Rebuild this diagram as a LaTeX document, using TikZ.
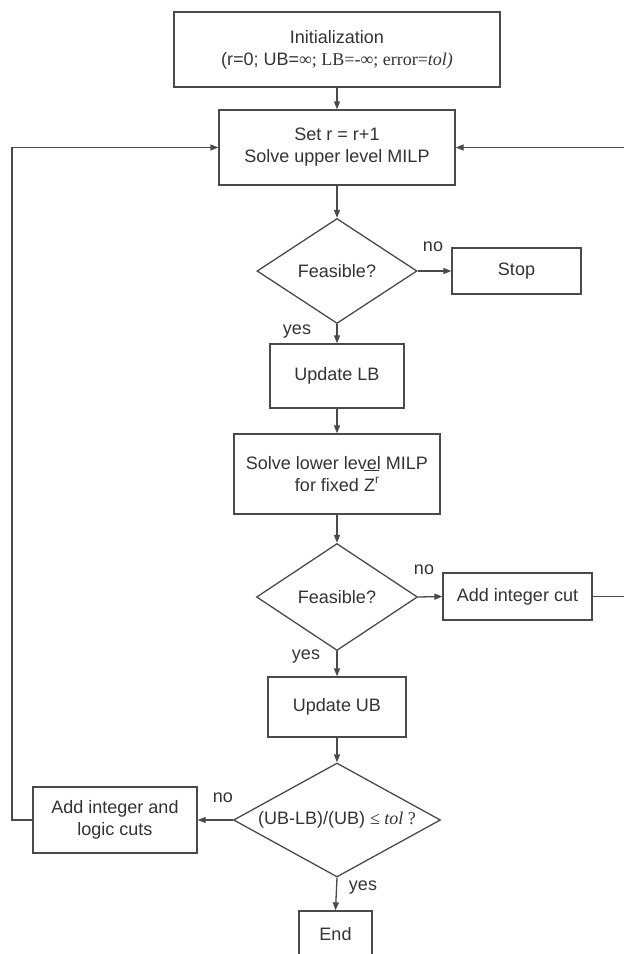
\documentclass[tikz,border=0pt]{standalone}
\usepackage{fontspec}
\setmainfont{Liberation Sans}
\newfontfamily\tms{Liberation Serif}
\usetikzlibrary{shapes.geometric,arrows.meta}
\definecolor{lc}{HTML}{4A4A4A}
\definecolor{tc}{HTML}{333333}
\tikzset{
  fnt/.style={font=\fontsize{18}{22}\selectfont},
  box/.style={draw=lc, line width=1.3pt, rectangle, inner sep=0pt, align=center, text=tc, fnt},
  dia/.style={draw=lc, line width=1.3pt, diamond, inner sep=0pt, align=center, text=tc, fnt},
  arr/.style={draw=lc, line width=1.3pt, -{Triangle[length=8pt,width=6pt]}},
  lab/.style={text=tc, fnt, inner sep=0pt}
}
\begin{document}
\begin{tikzpicture}[x=1pt,y=-1pt]
\useasboundingbox (0,0) rectangle (624,954);
\node[box, minimum width=326pt, minimum height=75pt] (init) at (337,49.5)
  {Initialization\\(r=0; UB={\tms ∞; LB=-∞; error=\itshape tol)}};
\node[box, minimum width=236pt, minimum height=75pt] (setr) at (337,147.5)
  {Set r = r+1\\Solve upper level MILP};
\node[dia, minimum width=160pt, minimum height=105pt, aspect=1.52] (d1) at (337,271) {Feasible?};
\node[box, minimum width=129pt, minimum height=46pt] (stop) at (516.5,271) {Stop};
\node[box, minimum width=134pt, minimum height=64pt] (ulb) at (337,376) {Update LB};
\node[box, minimum width=206pt, minimum height=80pt] (lower) at (337,474)
  {Solve lower level MILP\\for fixed \rlap{\smash{\raisebox{20pt}{\rule{15pt}{1.2pt}}}}Z\raisebox{8pt}{\fontsize{12}{12}\selectfont r}};
\node[dia, minimum width=161pt, minimum height=107pt, aspect=1.5] (d2) at (337,597) {Feasible?};
\node[box, minimum width=149pt, minimum height=47pt] (aic) at (517.5,596.5) {Add integer cut};
\node[box, minimum width=138pt, minimum height=60pt] (uub) at (337,707) {Update UB};
\node[dia, minimum width=207pt, minimum height=114pt, aspect=1.816] (d3) at (337,820)
  {(UB-LB)/(UB) {\tms ≤ \textit{tol} ?}};
\node[box, minimum width=164pt, minimum height=66pt] (ailc) at (115,820)
  {Add integer and\\logic cuts};
\node[box, minimum width=73pt, minimum height=46pt] (end) at (335.5,934) {End};
\coordinate (lc1) at (12,820);
\coordinate (rc1) at (625,596.5);
\draw[arr] (init.south) -- (setr.north);
\draw[arr] (setr.south) -- (d1.north);
\draw[arr] (d1.east) -- (stop.west);
\draw[arr] (d1.south) -- (ulb.north);
\draw[arr] (ulb.south) -- (lower.north);
\draw[arr] (lower.south) -- (d2.north);
\draw[arr] (d2.east) -- (aic.west);
\draw[arr] (d2.south) -- (uub.north);
\draw[arr] (uub.south) -- (d3.north);
\draw[arr] (d3.west) -- (ailc.east);
\draw[arr] (d3.south) -- (end.north);
\draw[arr] (ailc.west) -- (lc1) |- (setr.west);
\draw[arr] (aic.east) -- (rc1) |- (setr.east);
\node[lab] (no1) at (433,247) {no};
\node[lab] (yes1) at (297,332) {yes};
\node[lab] (no2) at (424,570) {no};
\node[lab] (yes2) at (306,657) {yes};
\node[lab] (no3) at (223,798) {no};
\node[lab] (yes3) at (363,888) {yes};
\end{tikzpicture}
\end{document}
